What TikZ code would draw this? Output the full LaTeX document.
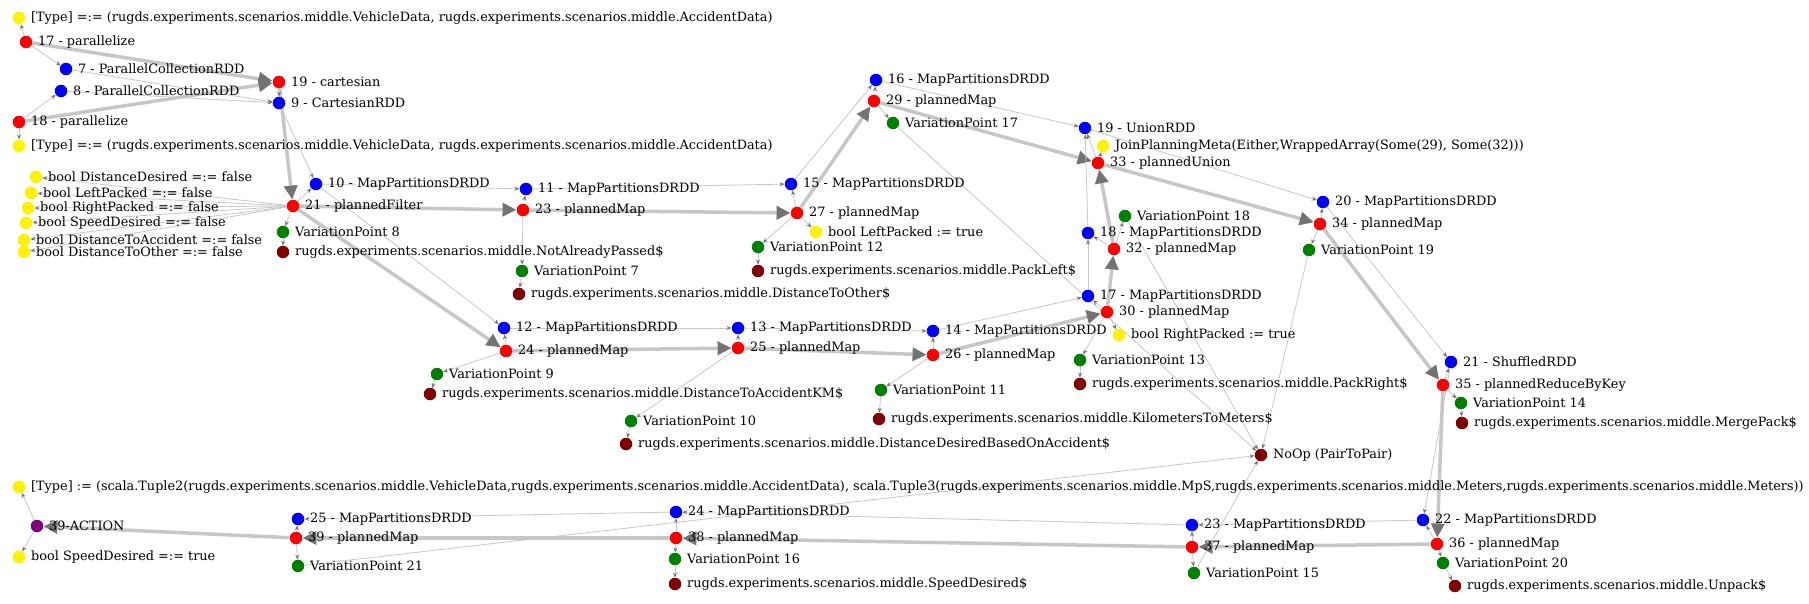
\documentclass[tikz,border=0pt]{standalone}
\usepackage{fontspec}
\setmainfont{DejaVu Serif}
\usetikzlibrary{arrows.meta}
\pgfdeclarelayer{bg}
\pgfsetlayers{bg,main}
\definecolor{vpgreen}{HTML}{008000}
\definecolor{fnred}{HTML}{800000}
\definecolor{actpurple}{HTML}{800080}

\begin{document}
\begin{tikzpicture}[x=1pt, y=-1pt,
    dot/.style={circle, inner sep=0pt, minimum size=12.5pt},
    rdd/.style={dot, fill=blue},
    planned/.style={dot, fill=red},
    meta/.style={dot, fill=yellow},
    vpoint/.style={dot, fill=vpgreen},
    func/.style={dot, fill=fnred},
    action/.style={dot, fill=actpurple},
    every label/.style={inner sep=0pt, font=\fontsize{12.85}{14}\selectfont},
    label distance=5.5pt,
    flow/.style={draw=black!22, line width=0.8pt, -{Stealth[length=5pt,width=4pt,color=black!55]}},
    plan/.style={draw=black!22, line width=3.5pt, -{Triangle[length=14pt,width=13pt,color=black!55]}}]
    \useasboundingbox (0,0) rectangle (1809,603);

    % sources
    \node[meta] (ty1) at (19,18) [label={right:{[Type] =:= (rugds.experiments.scenarios.middle.VehicleData, rugds.experiments.scenarios.middle.AccidentData)}}] {};
    \node[planned] (p17) at (26,42) [label={right:{17 - parallelize}}] {};
    \node[rdd] (c7) at (66,69) [label={right:{7 - ParallelCollectionRDD}}] {};
    \node[rdd] (c8) at (61,91) [label={right:{8 - ParallelCollectionRDD}}] {};
    \node[planned] (p18) at (19,122) [label={right:{18 - parallelize}}] {};
    \node[meta] (ty2) at (19,146) [label={right:{[Type] =:= (rugds.experiments.scenarios.middle.VehicleData, rugds.experiments.scenarios.middle.AccidentData)}}] {};
    \node[planned] (cart19) at (279,82) [label={right:{19 - cartesian}}] {};
    \node[rdd] (crdd9) at (279,103) [label={right:{9 - CartesianRDD}}] {};

    % filter
    \node[meta] (bDD) at (36,177) [label={right:{bool DistanceDesired =:= false}}] {};
    \node[meta] (bLP) at (31,193) [label={right:{bool LeftPacked =:= false}}] {};
    \node[meta] (bRP) at (28,208) [label={right:{bool RightPacked =:= false}}] {};
    \node[meta] (bSD) at (26,223) [label={right:{bool SpeedDesired =:= false}}] {};
    \node[meta] (bDA) at (24,240) [label={right:{bool DistanceToAccident =:= false}}] {};
    \node[meta] (bDO) at (24,252) [label={right:{bool DistanceToOther =:= false}}] {};
    \node[planned] (pf21) at (293,206) [label={right:{21 - plannedFilter}}] {};
    \node[rdd] (m10) at (316,184) [label={right:{10 - MapPartitionsDRDD}}] {};
    \node[vpoint] (vp8) at (283,232) [label={right:{VariationPoint 8}}] {};
    \node[func] (f8) at (283,252) [label={right:{rugds.experiments.scenarios.middle.NotAlreadyPassed\$}}] {};

    % upper branch
    \node[rdd] (m11) at (526,189) [label={right:{11 - MapPartitionsDRDD}}] {};
    \node[planned] (pm23) at (523,210) [label={right:{23 - plannedMap}}] {};
    \node[vpoint] (vp7) at (522,271) [label={right:{VariationPoint 7}}] {};
    \node[func] (f7) at (519,294) [label={right:{rugds.experiments.scenarios.middle.DistanceToOther\$}}] {};
    \node[rdd] (m15) at (791,184) [label={right:{15 - MapPartitionsDRDD}}] {};
    \node[planned] (pm27) at (797,213) [label={right:{27 - plannedMap}}] {};
    \node[meta] (bl) at (816,232) [label={right:{bool LeftPacked := true}}] {};
    \node[vpoint] (vp12) at (758,247) [label={right:{VariationPoint 12}}] {};
    \node[func] (f12) at (758,271) [label={right:{rugds.experiments.scenarios.middle.PackLeft\$}}] {};
    \node[rdd] (m16) at (876,80) [label={right:{16 - MapPartitionsDRDD}}] {};
    \node[planned] (pm29) at (874,101) [label={right:{29 - plannedMap}}] {};
    \node[vpoint] (vp17) at (893,123) [label={right:{VariationPoint 17}}] {};

    % union
    \node[rdd] (u19) at (1085,128) [label={right:{19 - UnionRDD}}] {};
    \node[meta] (jp) at (1103,146) [label={right:{JoinPlanningMeta(Either,WrappedArray(Some(29), Some(32)))}}] {};
    \node[planned] (pu33) at (1098,163) [label={right:{33 - plannedUnion}}] {};
    \node[vpoint] (vp18) at (1125,216) [label={right:{VariationPoint 18}}] {};
    \node[rdd] (m18) at (1088,233) [label={right:{18 - MapPartitionsDRDD}}] {};
    \node[planned] (pm32) at (1114,249) [label={right:{32 - plannedMap}}] {};
    \node[rdd] (m17) at (1088,296) [label={right:{17 - MapPartitionsDRDD}}] {};
    \node[planned] (pm30) at (1107,312) [label={right:{30 - plannedMap}}] {};
    \node[meta] (br) at (1119,335) [label={right:{bool RightPacked := true}}] {};
    \node[vpoint] (vp13) at (1080,360) [label={right:{VariationPoint 13}}] {};
    \node[func] (f13) at (1080,384) [label={right:{rugds.experiments.scenarios.middle.PackRight\$}}] {};
    \node[rdd] (m20) at (1323,202) [label={right:{20 - MapPartitionsDRDD}}] {};
    \node[planned] (pm34) at (1320,224) [label={right:{34 - plannedMap}}] {};
    \node[vpoint] (vp19) at (1309,250) [label={right:{VariationPoint 19}}] {};

    % lower branch
    \node[rdd] (m12) at (504,328) [label={right:{12 - MapPartitionsDRDD}}] {};
    \node[planned] (pm24) at (506,351) [label={right:{24 - plannedMap}}] {};
    \node[vpoint] (vp9) at (437,374) [label={right:{VariationPoint 9}}] {};
    \node[func] (f9) at (430,394) [label={right:{rugds.experiments.scenarios.middle.DistanceToAccidentKM\$}}] {};
    \node[rdd] (m13) at (738,328) [label={right:{13 - MapPartitionsDRDD}}] {};
    \node[planned] (pm25) at (738,348) [label={right:{25 - plannedMap}}] {};
    \node[vpoint] (vp10) at (631,421) [label={right:{VariationPoint 10}}] {};
    \node[func] (f10) at (626,444) [label={right:{rugds.experiments.scenarios.middle.DistanceDesiredBasedOnAccident\$}}] {};
    \node[rdd] (m14) at (933,331) [label={right:{14 - MapPartitionsDRDD}}] {};
    \node[planned] (pm26) at (933,355) [label={right:{26 - plannedMap}}] {};
    \node[vpoint] (vp11) at (881,390) [label={right:{VariationPoint 11}}] {};
    \node[func] (f11) at (879,419) [label={right:{rugds.experiments.scenarios.middle.KilometersToMeters\$}}] {};
    \node[func] (noop) at (1261,455) [label={right:{NoOp (PairToPair)}}] {};

    % reduce
    \node[rdd] (sh21) at (1451,362) [label={right:{21 - ShuffledRDD}}] {};
    \node[planned] (rbk35) at (1443,385) [label={right:{35 - plannedReduceByKey}}] {};
    \node[vpoint] (vp14) at (1461,403) [label={right:{VariationPoint 14}}] {};
    \node[func] (f14) at (1462,423) [label={right:{rugds.experiments.scenarios.middle.MergePack\$}}] {};

    % back to the action
    \node[meta] (ty3) at (19,487) [label={right:{[Type] := (scala.Tuple2(rugds.experiments.scenarios.middle.VehicleData,rugds.experiments.scenarios.middle.AccidentData), scala.Tuple3(rugds.experiments.scenarios.middle.MpS,rugds.experiments.scenarios.middle.Meters,rugds.experiments.scenarios.middle.Meters))}}] {};
    \node[action] (act39) at (37,526) [label={right:{39-ACTION}}] {};
    \node[meta] (bs) at (19,557) [label={right:{bool SpeedDesired =:= true}}] {};
    \node[rdd] (m25) at (298,519) [label={right:{25 - MapPartitionsDRDD}}] {};
    \node[planned] (pm39) at (296,538) [label={right:{39 - plannedMap}}] {};
    \node[vpoint] (vp21) at (298,566) [label={right:{VariationPoint 21}}] {};
    \node[rdd] (m24) at (676,512) [label={right:{24 - MapPartitionsDRDD}}] {};
    \node[planned] (pm38) at (676,538) [label={right:{38 - plannedMap}}] {};
    \node[vpoint] (vp16) at (675,559) [label={right:{VariationPoint 16}}] {};
    \node[func] (f16) at (675,584) [label={right:{rugds.experiments.scenarios.middle.SpeedDesired\$}}] {};
    \node[rdd] (m23) at (1192,525) [label={right:{23 - MapPartitionsDRDD}}] {};
    \node[planned] (pm37) at (1192,547) [label={right:{37 - plannedMap}}] {};
    \node[vpoint] (vp15) at (1194,573) [label={right:{VariationPoint 15}}] {};
    \node[rdd] (m22) at (1423,520) [label={right:{22 - MapPartitionsDRDD}}] {};
    \node[planned] (pm36) at (1437,544) [label={right:{36 - plannedMap}}] {};
    \node[vpoint] (vp20) at (1443,563) [label={right:{VariationPoint 20}}] {};
    \node[func] (f20) at (1455,586) [label={right:{rugds.experiments.scenarios.middle.Unpack\$}}] {};

    \begin{pgfonlayer}{bg}
    \path[plan]
    (p17) edge (cart19)
    (p18) edge (cart19)
    (cart19) edge (pf21)
    (pf21) edge (pm23)
    (pf21) edge (pm24)
    (pm23) edge (pm27)
    (pm27) edge (pm29)
    (pm29) edge (pu33)
    (pm24) edge (pm25)
    (pm25) edge (pm26)
    (pm26) edge (pm30)
    (pm30) edge (pm32)
    (pm32) edge (pu33)
    (pu33) edge (pm34)
    (pm34) edge (rbk35)
    (rbk35) edge (pm36)
    (pm36) edge (pm37)
    (pm37) edge (pm38)
    (pm38) edge (pm39)
    (pm39) edge (act39);

    \path[flow]
    (p17) edge (ty1) (p17) edge (c7)
    (p18) edge (c8) (p18) edge (ty2)
    (c7) edge (crdd9) (c8) edge (crdd9)
    (cart19) edge (crdd9) (crdd9) edge (m10)
    (pf21) edge (m10) (pf21) edge (vp8) (vp8) edge (f8)
    (pf21) edge (bDD) (pf21) edge (bLP) (pf21) edge (bRP)
    (pf21) edge (bSD) (pf21) edge (bDA) (pf21) edge (bDO)
    (m10) edge (m11) (m10) edge (m12)
    (pm23) edge (m11) (pm23) edge (vp7) (vp7) edge (f7)
    (m11) edge (m15)
    (pm27) edge (m15) (pm27) edge (bl) (pm27) edge (vp12) (vp12) edge (f12)
    (m15) edge (m16)
    (pm29) edge (m16) (pm29) edge (vp17)
    (m16) edge (u19)
    (pu33) edge (u19) (pu33) edge (jp)
    (m17) edge (m18) (m18) edge (u19)
    (pm32) edge (m18) (pm32) edge (vp18)
    (pm30) edge (m17) (pm30) edge (br) (pm30) edge (vp13) (vp13) edge (f13)
    (m12) edge (m13) (m13) edge (m14) (m14) edge (m17)
    (pm24) edge (m12) (pm24) edge (vp9) (vp9) edge (f9)
    (pm25) edge (m13) (pm25) edge (vp10) (vp10) edge (f10)
    (pm26) edge (m14) (pm26) edge (vp11) (vp11) edge (f11)
    (u19) edge (m20)
    (pm34) edge (m20) (pm34) edge (vp19)
    (m20) edge (sh21)
    (rbk35) edge (sh21) (rbk35) edge (vp14) (vp14) edge (f14)
    (sh21) edge (m22)
    (pm36) edge (m22) (pm36) edge (vp20) (vp20) edge (f20)
    (m22) edge (m23) (m23) edge (m24) (m24) edge (m25)
    (pm37) edge (m23) (pm37) edge (vp15)
    (pm38) edge (m24) (pm38) edge (vp16) (vp16) edge (f16)
    (pm39) edge (m25) (pm39) edge (vp21)
    (act39) edge (ty3) (act39) edge (bs)
    (vp17) edge (noop) (vp18) edge (noop) (vp19) edge (noop)
    (vp15) edge (noop) (vp21) edge (noop);
    \end{pgfonlayer}
\end{tikzpicture}
\end{document}
